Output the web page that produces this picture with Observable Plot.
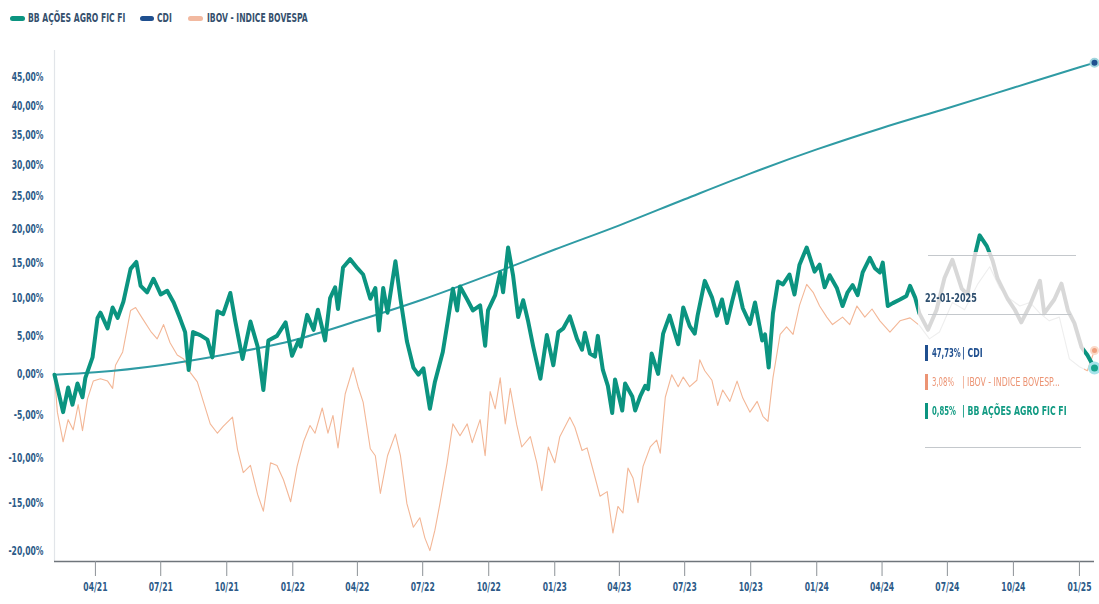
<!DOCTYPE html>
<html>
<head>
<meta charset="utf-8">
<script src="https://cdn.jsdelivr.net/npm/d3@7"></script>
<script src="https://cdn.jsdelivr.net/npm/@observablehq/plot@0.6"></script>
<style>
  body { margin:0; background:#fff; width:1099px; height:604px; overflow:hidden; position:relative;
         font-family:"Liberation Sans Narrow","DejaVu Sans Condensed","Roboto",sans-serif; }
  .legend { position:relative; height:34px; font-size:12.5px; font-weight:bold; color:#35506d; }
  .legend .sw { position:absolute; top:16px; height:5px; border-radius:3px; }
  .legend .tx { position:absolute; top:10px; white-space:nowrap; transform:scaleX(0.68); transform-origin:left center; }
  #chart svg { display:block; }
  .tip { position:absolute; left:918px; top:252px; width:166px; height:200px;
         background:rgba(255,255,255,0.72); backdrop-filter: grayscale(100%); -webkit-backdrop-filter: grayscale(100%); }
  .tip .hr { position:absolute; height:0; border-top:1.5px solid #c4c8cc; }
  .tip .date { position:absolute; left:7px; top:38px; font-size:12.5px; font-weight:bold; color:#2d4e6e;
               white-space:nowrap; transform:scaleX(0.72); transform-origin:left center; }
  .tip .bar { position:absolute; left:7px; width:3px; height:16px; }
  .tip .t { position:absolute; font-size:12px; white-space:nowrap; transform:scaleX(0.72); transform-origin:left center; line-height:16px; }
  .tip .t.v { transform:scaleX(0.64); }
</style>
</head>
<body>
<div class="legend" id="legend"></div>
<div id="chart"></div>
<div class="tip" id="tip"></div>
<script>
// ---- series names & colours ----
const seriesNames = ["BB AÇÕES AGRO FIC FI", "CDI", "IBOV - INDICE BOVESPA"];
const tipLabels = ["BB AÇÕES AGRO FIC FI", "CDI", "IBOV - INDICE BOVESP..."];
const tipDate = "22-01-2025";

// ---- axis ticks ----
const yTicks = [45, 40, 35, 30, 25, 20, 15, 10, 5, 0, -5, -10, -15, -20];
const xTicks = ["2021-04-01","2021-07-01","2021-10-01","2022-01-01","2022-04-01","2022-07-01","2022-10-01",
  "2023-01-01","2023-04-01","2023-07-01","2023-10-01","2024-01-01","2024-04-01","2024-07-01","2024-10-01","2025-01-01"];

// ---- BB AÇÕES AGRO FIC FI (% accumulated) ----
const agroDates = ["2021-02-03","2021-02-15","2021-02-22","2021-02-28","2021-03-07","2021-03-14","2021-03-18","2021-03-28",
"2021-04-04","2021-04-08","2021-04-18","2021-04-25","2021-05-02","2021-05-10","2021-05-20","2021-05-28","2021-06-03","2021-06-12",
"2021-06-21","2021-07-01","2021-07-10","2021-07-19","2021-07-28","2021-08-04","2021-08-09","2021-08-15","2021-08-25","2021-09-04",
"2021-09-11","2021-09-18","2021-09-26","2021-10-06","2021-10-13","2021-10-23","2021-11-03","2021-11-13","2021-11-21","2021-11-28",
"2021-12-10","2021-12-22","2021-12-31","2022-01-09","2022-01-12","2022-01-21","2022-01-30","2022-02-05","2022-02-15","2022-02-22",
"2022-03-01","2022-03-05","2022-03-12","2022-03-22","2022-04-01","2022-04-09","2022-04-19","2022-04-26","2022-05-01","2022-05-07",
"2022-05-13","2022-05-24","2022-05-31","2022-06-09","2022-06-18","2022-06-25","2022-07-02","2022-07-11","2022-07-18","2022-07-29",
"2022-08-05","2022-08-12","2022-08-18","2022-08-22","2022-09-01","2022-09-09","2022-09-19","2022-09-26","2022-09-30","2022-10-10",
"2022-10-17","2022-10-21","2022-10-28","2022-11-04","2022-11-11","2022-11-18","2022-11-25","2022-12-02","2022-12-12","2022-12-21",
"2022-12-30","2023-01-06","2023-01-13","2023-01-22","2023-02-01","2023-02-08","2023-02-12","2023-02-19","2023-02-26","2023-03-02",
"2023-03-09","2023-03-16","2023-03-22","2023-03-26","2023-04-05","2023-04-09","2023-04-19","2023-04-23","2023-04-30","2023-05-07",
"2023-05-11","2023-05-16","2023-05-25","2023-06-01","2023-06-10","2023-06-22","2023-06-29","2023-07-08","2023-07-15","2023-07-19",
"2023-07-29","2023-08-08","2023-08-15","2023-08-22","2023-08-29","2023-09-05","2023-09-12","2023-09-20","2023-09-30","2023-10-07",
"2023-10-17","2023-10-21","2023-10-26","2023-11-01","2023-11-08","2023-11-15","2023-11-24","2023-12-01","2023-12-08","2023-12-18",
"2023-12-29","2024-01-05","2024-01-12","2024-01-19","2024-01-29","2024-02-06","2024-02-13","2024-02-20","2024-02-27","2024-03-05",
"2024-03-15","2024-03-22","2024-03-29","2024-04-02","2024-04-09","2024-04-16","2024-04-26","2024-05-05","2024-05-10","2024-05-17",
"2024-05-23","2024-06-04","2024-06-16","2024-06-27","2024-07-08","2024-07-21","2024-07-29","2024-08-08","2024-08-15","2024-08-25",
"2024-09-02","2024-09-09","2024-09-23","2024-10-03","2024-10-12","2024-10-24","2024-11-07","2024-11-13","2024-11-27","2024-12-07",
"2024-12-16","2024-12-25","2025-01-04","2025-01-12","2025-01-22"];
const agroValues = [0.0,-4.6,-1.6,-3.7,-1.1,-2.8,-0.4,2.2,
7.4,8.1,6.0,8.8,7.4,9.6,14.2,15.2,11.8,10.9,
12.8,10.6,11.1,9.5,7.3,5.5,0.6,5.5,5.1,4.5,
2.2,8.3,7.9,10.8,6.9,2.0,6.9,3.6,-1.9,4.4,
5.0,6.8,2.4,4.4,3.6,7.8,5.8,8.5,4.4,10.1,
11.6,8.6,14.4,15.6,14.3,13.4,10.0,11.5,5.7,11.5,
8.1,15.3,10.0,4.3,0.9,0.0,0.8,-4.2,-0.9,2.9,
7.0,11.4,8.4,11.7,9.9,8.4,9.1,3.7,8.4,10.5,
13.7,10.9,17.3,13.2,7.5,9.8,6.9,3.6,-0.5,5.1,
1.2,5.5,6.0,7.6,4.6,3.2,5.4,2.7,2.3,5.0,
0.6,-1.4,-4.7,-0.6,-4.4,-1.1,-2.7,-4.4,-2.7,-1.4,
-1.8,2.7,0.1,5.3,7.7,3.9,8.8,6.3,5.3,7.7,
12.5,10.2,7.7,9.9,6.7,9.6,12.3,8.7,6.6,9.5,
4.4,5.2,0.9,8.0,12.4,12.0,13.4,10.6,14.8,17.3,
13.8,14.8,11.6,13.3,11.5,9.0,10.9,11.9,10.5,13.7,
15.8,14.3,13.7,15.1,9.0,9.4,9.9,10.4,11.8,10.2,
8.0,5.8,8.5,12.9,15.5,11.4,10.6,16.0,19.1,17.5,
15.4,12.8,10.0,8.5,6.8,9.1,12.5,8.0,9.9,12.1,
8.4,6.7,3.5,2.5,0.85];

// ---- IBOV - INDICE BOVESPA (% accumulated) ----
const ibovDates = ["2021-02-03","2021-02-07","2021-02-15","2021-02-22","2021-03-01","2021-03-08","2021-03-14","2021-03-21",
"2021-03-29","2021-04-08","2021-04-18","2021-04-25","2021-04-29","2021-05-09","2021-05-20","2021-05-27","2021-06-05","2021-06-17",
"2021-06-26","2021-07-05","2021-07-14","2021-07-24","2021-08-02","2021-08-11","2021-08-21","2021-08-29","2021-09-08","2021-09-18",
"2021-09-26","2021-10-09","2021-10-16","2021-10-24","2021-11-03","2021-11-13","2021-11-21","2021-12-01","2021-12-10","2021-12-19",
"2021-12-29","2022-01-07","2022-01-16","2022-01-25","2022-02-01","2022-02-11","2022-02-19","2022-02-26","2022-03-05","2022-03-15",
"2022-03-26","2022-04-02","2022-04-09","2022-04-19","2022-04-26","2022-05-03","2022-05-13","2022-05-24","2022-05-31","2022-06-09",
"2022-06-18","2022-06-27","2022-07-04","2022-07-11","2022-07-18","2022-07-25","2022-08-04","2022-08-12","2022-08-22","2022-09-01",
"2022-09-08","2022-09-19","2022-09-26","2022-10-03","2022-10-10","2022-10-17","2022-10-24","2022-10-31","2022-11-09","2022-11-16",
"2022-11-28","2022-12-07","2022-12-14","2022-12-23","2023-01-01","2023-01-08","2023-01-22","2023-01-29","2023-02-08","2023-02-15",
"2023-02-23","2023-03-05","2023-03-15","2023-03-23","2023-03-30","2023-04-06","2023-04-13","2023-04-20","2023-04-27","2023-05-04",
"2023-05-14","2023-05-23","2023-05-28","2023-06-04","2023-06-13","2023-06-22","2023-06-29","2023-07-08","2023-07-18","2023-07-22",
"2023-07-29","2023-08-08","2023-08-16","2023-08-23","2023-09-02","2023-09-12","2023-09-20","2023-09-30","2023-10-10","2023-10-18",
"2023-10-25","2023-11-01","2023-11-11","2023-11-20","2023-11-29","2023-12-08","2023-12-18","2023-12-27","2024-01-05","2024-01-15",
"2024-01-23","2024-02-06","2024-02-16","2024-02-26","2024-03-08","2024-03-18","2024-03-29","2024-04-12","2024-04-26","2024-05-10",
"2024-05-23","2024-06-06","2024-06-20","2024-07-08","2024-07-25","2024-08-12","2024-08-29","2024-09-12","2024-09-26","2024-10-10",
"2024-10-24","2024-11-07","2024-11-20","2024-12-04","2024-12-18","2025-01-01","2025-01-12","2025-01-22"];
const ibovValues = [0.0,-4.6,-8.1,-5.5,-6.7,-3.7,-6.8,-3.0,
-0.8,-0.5,-0.8,-1.7,1.2,2.9,8.4,8.8,7.4,5.6,
4.6,6.5,4.1,2.5,2.0,0.3,-0.9,-3.2,-6.0,-7.1,
-6.3,-5.2,-9.0,-11.6,-10.8,-14.0,-15.8,-10.5,-10.8,-12.4,
-14.8,-10.9,-8.1,-6.2,-7.1,-4.1,-7.1,-5.0,-8.8,-2.4,
0.9,-1.5,-3.4,-8.9,-9.7,-13.9,-9.7,-7.2,-9.7,-15.0,
-17.5,-16.5,-18.6,-19.9,-17.8,-15.0,-10.5,-6.0,-7.4,-6.0,
-8.2,-5.5,-9.7,-2.1,-4.2,-0.4,-6.0,-1.7,-6.1,-8.7,
-7.5,-10.5,-13.6,-8.7,-10.5,-7.5,-5.2,-6.4,-9.1,-8.8,
-11.2,-14.2,-13.7,-18.1,-15.3,-16.0,-11.1,-12.2,-14.9,-10.9,
-8.7,-7.9,-9.4,-2.8,0.0,-1.5,-0.3,-1.5,-0.7,1.9,
0.5,-0.7,-3.8,-1.9,-3.3,-0.8,-2.9,-4.6,-3.3,-5.1,
-5.7,-0.4,5.2,6.2,5.2,9.1,12.0,10.9,9.0,7.5,
6.5,7.5,6.5,9.0,7.5,8.6,7.0,5.5,7.0,7.4,
6.4,4.6,5.5,9.5,8.5,12.0,14.5,11.5,10.0,9.0,
9.5,8.0,7.0,7.5,2.0,1.0,0.5,3.08];

// ---- CDI (% accumulated) ----
const cdiDates = ["2021-02-03","2021-04-01","2021-07-01","2021-10-01","2022-01-01","2022-04-01","2022-07-01","2022-10-01",
"2023-01-01","2023-04-01","2023-07-01","2023-10-01","2024-01-01","2024-04-01","2024-07-01","2024-10-01","2025-01-01","2025-01-22"];
const cdiValues = [0.0,0.3,1.2,2.6,4.4,7.0,9.9,13.3,17.0,20.6,24.6,28.7,32.6,36.2,39.6,43.2,46.9,47.73];

// ---- styling constants ----
const colors = {agro:"#0b9480", cdi:"#2f9ba4", cdiMark:"#1f4f8f", ibov:"#f3b797", ibovText:"#ec9474", agroText:"#109a82"};
const SHIFT = 103;           // offset used by the log-shaped y scale
const Y_MIN = -21, Y_MAX = 50;
const labelColor = "#2c5a88";
const fontFam = '"Liberation Sans Narrow","DejaVu Sans Condensed","Roboto",sans-serif';
const NARROW = 0.74;         // horizontal squeeze for the condensed look of axis labels

const toRows = (dates, vals) => dates.map((d, i) => ({date: new Date(d), v: vals[i]}));
const agro = toRows(agroDates, agroValues);
const ibov = toRows(ibovDates, ibovValues);
const cdi = toRows(cdiDates, cdiValues);
const fmt = v => v.toFixed(2).replace(".", ",") + "%";

// legend (absolute layout)
const legend = document.getElementById("legend");
const legendItems = [
  {name: seriesNames[0], color: colors.agro, sw: [10, 15], tx: 28},
  {name: seriesNames[1], color: colors.cdiMark, sw: [140, 14], tx: 157},
  {name: seriesNames[2], color: "#f2b9a0", sw: [188, 15], tx: 207}
];
legendItems.forEach(it => {
  legend.insertAdjacentHTML("beforeend",
    `<span class="sw" style="left:${it.sw[0]}px;width:${it.sw[1]}px;background:${it.color}"></span>` +
    `<span class="tx" style="left:${it.tx}px">${it.name}</span>`);
});

const chart = Plot.plot({
  width: 1099, height: 570,
  marginTop: 16, marginBottom: 43, marginLeft: 54, marginRight: 5,
  style: {fontFamily: fontFam, background: "transparent"},
  x: {type: "utc", domain: [agro[0].date, agro[agro.length - 1].date], axis: null},
  y: {type: "log", transform: v => v + SHIFT, domain: [Y_MIN + SHIFT, Y_MAX + SHIFT], axis: null},
  marks: [
    Plot.ruleX([agro[0].date], {stroke: "#e2e5e9", strokeWidth: 1.2}),
    Plot.ruleY([Y_MIN], {stroke: "#6f757b", strokeWidth: 1.3}),
    Plot.axisX(xTicks.map(d => new Date(d)), {tickSize: 15, tickPadding: 6, tickFormat: d3.utcFormat("%m/%y"),
      stroke: "#8d9297", fill: labelColor, fontWeight: "bold", fontSize: 11.5}),
    Plot.text(yTicks, {y: d => d, text: fmt, frameAnchor: "left", dx: -11, textAnchor: "end",
      fill: labelColor, fontWeight: "bold", fontSize: 11.5}),
    Plot.line(ibov, {x: "date", y: "v", stroke: colors.ibov, strokeWidth: 1.1}),
    Plot.line(cdi, {x: "date", y: "v", stroke: colors.cdi, strokeWidth: 2, curve: "monotone-x"}),
    Plot.line(agro, {x: "date", y: "v", stroke: colors.agro, strokeWidth: 4, strokeLinejoin: "round"}),
    Plot.dot([cdi[cdi.length - 1]], {x: "date", y: "v", r: 4, fill: colors.cdiMark, stroke: "#9fd6de", strokeWidth: 2}),
    Plot.dot([ibov[ibov.length - 1]], {x: "date", y: "v", r: 3.5, fill: "#f0a07e", stroke: "#fbd9c8", strokeWidth: 2}),
    Plot.dot([agro[agro.length - 1]], {x: "date", y: "v", r: 5, fill: "#17a48d", stroke: "#a6e3ea", strokeWidth: 3})
  ]
});
// squeeze every text horizontally around its anchor point (vertical offsets untouched)
chart.querySelectorAll("text").forEach(t => {
  let tr = t.getAttribute("transform") || "";
  const x = t.getAttribute("x");
  if (x != null && !isNaN(+x)) { tr += ` translate(${+x},0)`; t.removeAttribute("x"); }
  t.setAttribute("transform", `${tr} scale(${NARROW},1)`.trim());
});
document.getElementById("chart").appendChild(chart);

// tooltip box (hover state at last date)
const last = a => a[a.length - 1];
const tip = document.getElementById("tip");
const rowsTip = [
  {v: last(cdiValues), name: tipLabels[1], bar: colors.cdiMark, txt: colors.cdiMark, w: "bold", top: 93},
  {v: last(ibovValues), name: tipLabels[2], bar: colors.ibovText, txt: colors.ibovText, w: "normal", top: 122},
  {v: last(agroValues), name: tipLabels[0], bar: colors.agro, txt: colors.agroText, w: "bold", top: 151}
];
let html = `<div class="hr" style="left:10px;top:3px;width:148px"></div>
<div class="date">${tipDate}</div>
<div class="hr" style="left:10px;top:62px;width:143px"></div>
<div class="hr" style="left:7px;top:195px;width:156px"></div>`;
rowsTip.forEach(r => {
  html += `<span class="bar" style="top:${r.top}px;background:${r.bar}"></span>` +
    `<span class="t v" style="left:14px;top:${r.top}px;color:${r.txt};font-weight:${r.w}">${fmt(r.v)}</span>` +
    `<span class="t" style="left:44px;top:${r.top}px;color:${r.txt};font-weight:${r.w}">| ${r.name}</span>`;
});
tip.innerHTML = html;
</script>
</body>
</html>
